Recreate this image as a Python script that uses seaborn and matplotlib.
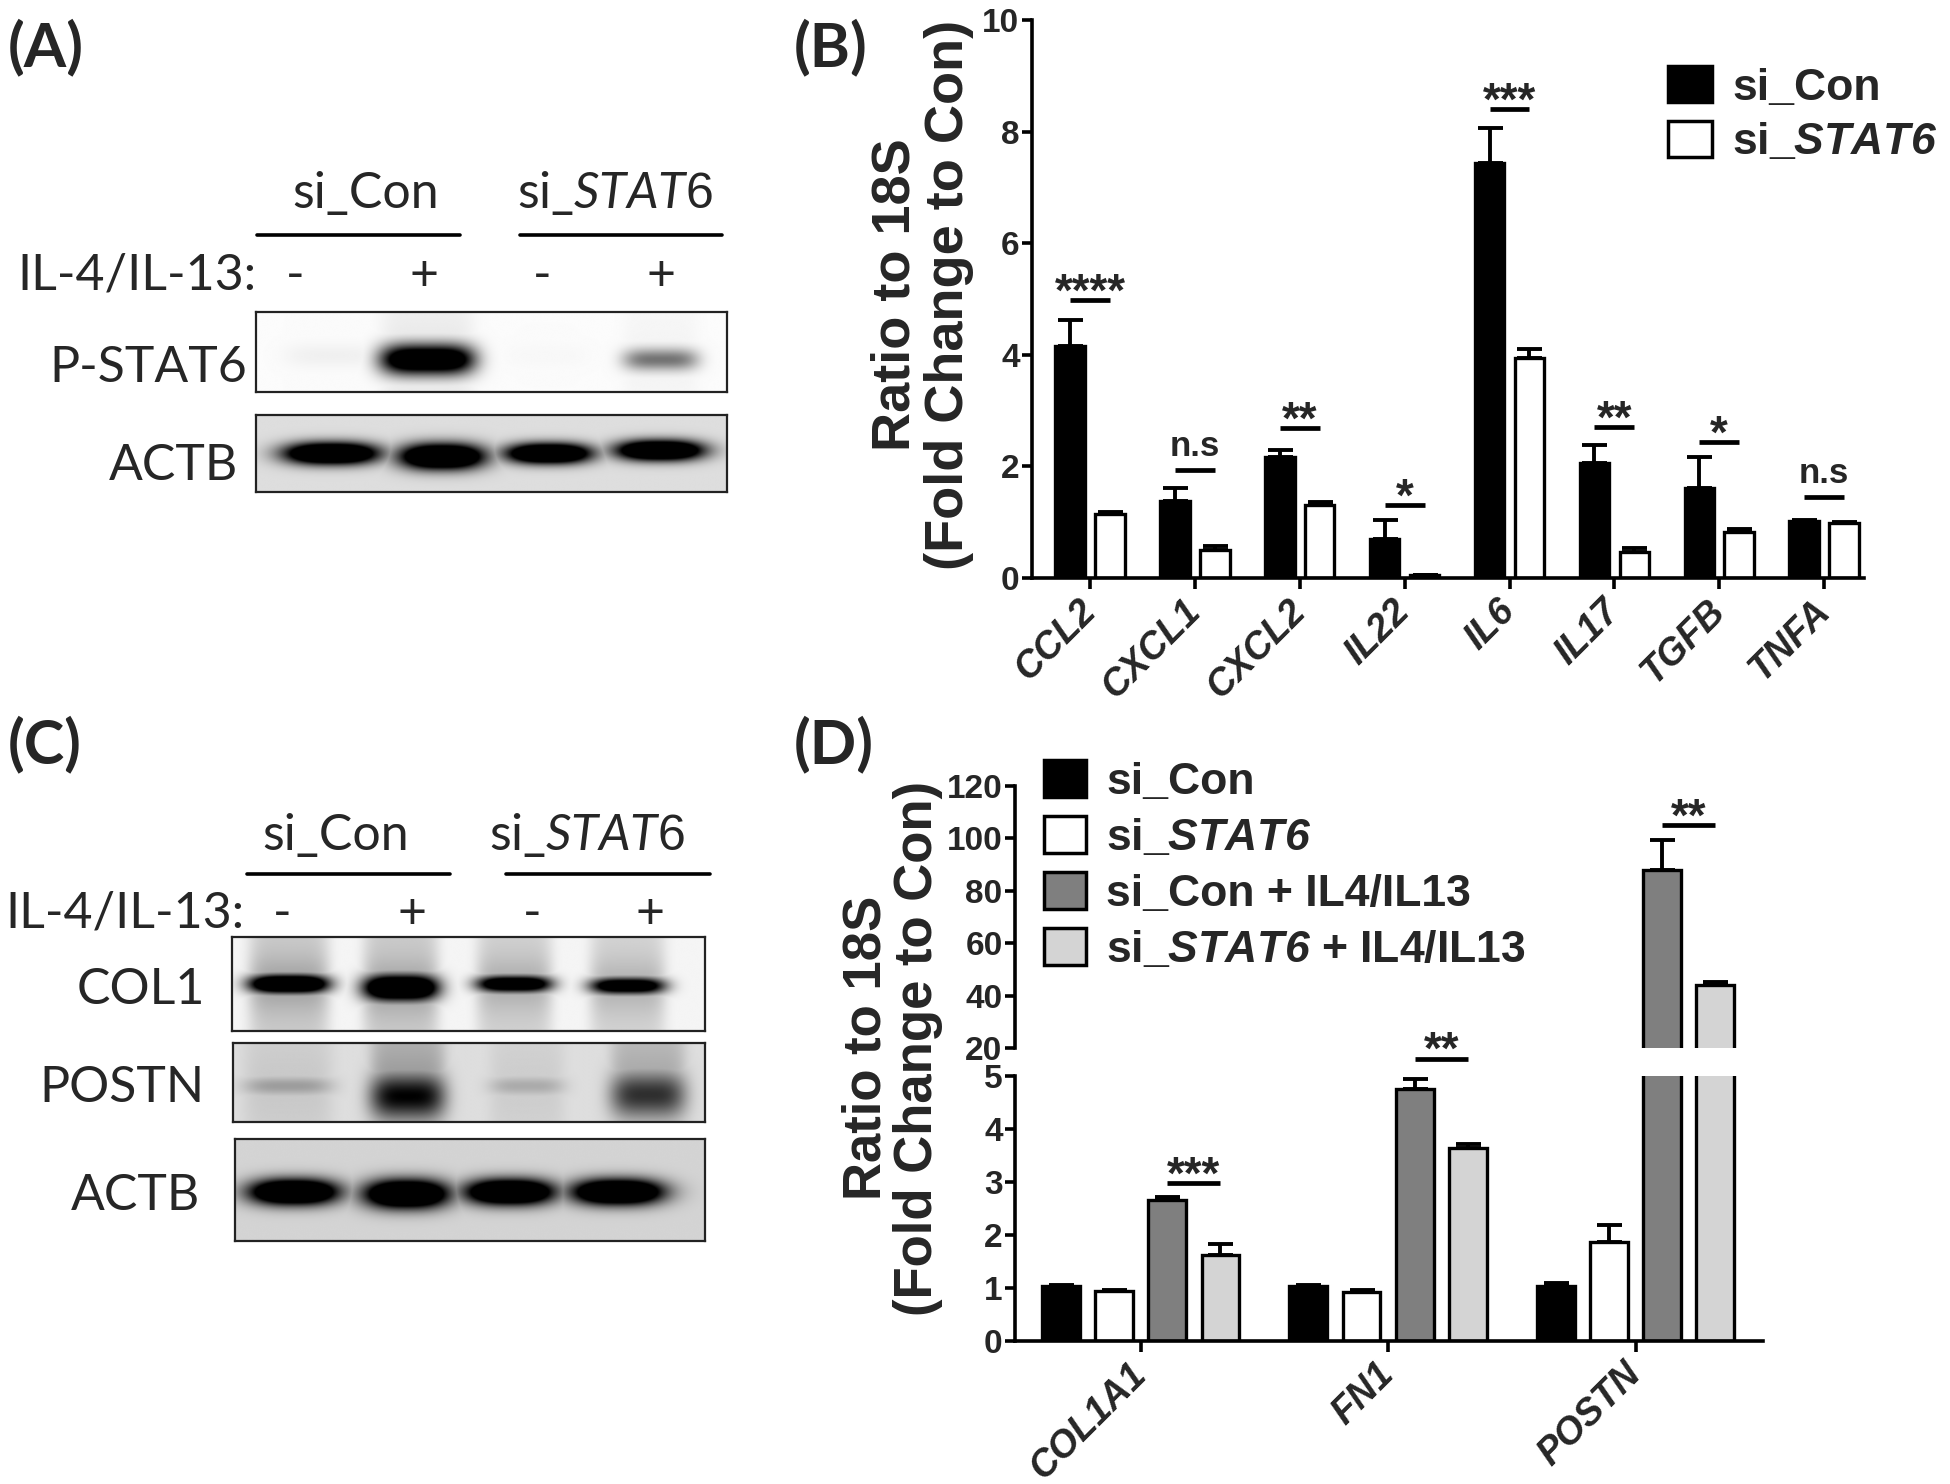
import numpy as np
import pandas as pd
import matplotlib
matplotlib.use("Agg")
import matplotlib.pyplot as plt
from matplotlib.patches import Patch
import seaborn as sns

W, H = 1950, 1484

# ---------------- Panel B data ----------------
genes_B = ["CCL2", "CXCL1", "CXCL2", "IL22", "IL6", "IL17", "TGFB", "TNFA"]
groups_B = ["si_Con", "si_STAT6"]
sicon_B = [4.16, 1.38, 2.16, 0.70, 7.44, 2.06, 1.62, 1.02]
sicon_B_err = [0.46, 0.24, 0.14, 0.34, 0.63, 0.32, 0.54, 0.02]
sistat6_B = [1.14, 0.50, 1.30, 0.06, 3.94, 0.46, 0.82, 0.99]
sistat6_B_err = [0.04, 0.07, 0.07, 0.0, 0.17, 0.08, 0.06, 0.01]
sig_B = ["****", "n.s", "**", "*", "***", "**", "*", "n.s"]
sig_B_y = [4.98, 1.94, 2.68, 1.30, 8.40, 2.70, 2.44, 1.46]

# ---------------- Panel D data ----------------
genes_D = ["COL1A1", "FN1", "POSTN"]
groups_D = ["si_Con", "si_STAT6", "si_Con + IL4/IL13", "si_STAT6 + IL4/IL13"]
sicon_D = [1.04, 1.04, 1.04]
sicon_D_err = [0.01, 0.01, 0.05]
sistat6_D = [0.95, 0.92, 1.87]
sistat6_D_err = [0.01, 0.05, 0.31]
sicon_il_D = [2.66, 4.76, 88.0]
sicon_il_D_err = [0.06, 0.18, 11.4]
sistat6_il_D = [1.62, 3.65, 43.9]
sistat6_il_D_err = [0.21, 0.07, 1.3]
sig_D = ["***", "**", "**"]
sig_D_y = [2.98, 5.33, 105.2]

# ---------------- Western blot band intensities (0 = none, 1 = saturated) ----------------
lanes_treat = ["-", "+", "-", "+"]
A_pstat6 = [0.03, 1.0, 0.01, 0.36]
A_actb = [1.0, 1.0, 1.0, 1.0]
C_col1 = [1.0, 1.0, 0.85, 0.8]
C_postn = [0.28, 0.95, 0.22, 0.75]
C_actb = [1.0, 1.0, 1.0, 1.0]

# ---------------- style ----------------
sns.set_theme(style="ticks")
plt.rcParams["font.family"] = ["Liberation Sans", "DejaVu Sans"]
plt.rcParams["mathtext.fontset"] = "custom"
plt.rcParams["mathtext.it"] = "Lato:italic"
plt.rcParams["mathtext.bf"] = "Liberation Sans:italic:bold"
plt.rcParams["mathtext.rm"] = "Liberation Sans"

fig = plt.figure(figsize=(W / 100, H / 100), dpi=100)


def fbox(x0, y0, x1, y1):
    return [x0 / W, 1 - y1 / H, (x1 - x0) / W, (y1 - y0) / H]


def fx(x):
    return x / W


def fy(y):
    return 1 - y / H


BLOT_FONT = ["Lato", "DejaVu Sans"]
BF = 36
LETTER = 44


def draw_blot(box, cx, intens, widths, ycs, hs, bg, smear=0.0, smear_h=0.4, sat=1.6, px=3.0):
    ax = fig.add_axes(fbox(*box))
    nx, ny = 700, 220
    x = np.linspace(0, 1, nx)[None, :]
    y = np.linspace(0, 1, ny)[:, None]
    dark = np.zeros((ny, nx))
    for c, a, w, yc, h in zip(cx, intens, widths, ycs, hs):
        dx = np.abs((x - c) / (w / 2))
        dy = np.abs((y - yc) / (h / 2))
        band = np.clip(sat * a * np.exp(-(dx ** px + dy ** 2)), 0, 1)
        dark = np.maximum(dark, band)
        if smear > 0:
            col = np.exp(-dx ** 6) * (0.5 + 0.5 * np.exp(-((y - yc) / smear_h) ** 2))
            dark = np.maximum(dark, smear * a * col)
    img = bg * (1 - dark)
    ax.imshow(img, cmap="gray", vmin=0, vmax=1, extent=[0, 1, 1, 0], aspect="auto",
              interpolation="bilinear")
    ax.set_xlim(0, 1)
    ax.set_ylim(1, 0)
    ax.set_xticks([])
    ax.set_yticks([])
    for s in ax.spines.values():
        s.set_visible(True)
        s.set_linewidth(1.6)
        s.set_color("#222222")
    return ax


def blot_header(y_text, y_line, y_sign, line1, line2, sign_x, con_x, stat_x, il_x):
    fig.text(fx(con_x), fy(y_text), "si_Con", family=BLOT_FONT, fontsize=BF, ha="center", va="baseline")
    fig.text(fx(stat_x), fy(y_text), r"si_$\mathit{STAT6}$", family=BLOT_FONT, fontsize=BF,
             ha="center", va="baseline")
    for (a, b) in (line1, line2):
        fig.add_artist(plt.Line2D([fx(a), fx(b)], [fy(y_line), fy(y_line)], color="black", lw=2.6,
                                  transform=fig.transFigure))
    fig.text(fx(il_x), fy(y_sign), "IL-4/IL-13:", family=BLOT_FONT, fontsize=BF, ha="left", va="baseline")
    for sx, t in zip(sign_x, lanes_treat):
        fig.text(fx(sx), fy(y_sign), t, family=BLOT_FONT, fontsize=BF, ha="center", va="baseline")


# ---------------- Panel A ----------------
fig.text(fx(8), fy(66), "(A)", family=BLOT_FONT, fontsize=LETTER, fontweight="bold", ha="left", va="baseline")
blot_header(208, 235, 290, (257, 460), (520, 722), [295, 424, 542, 661], 366, 615, 17)
draw_blot((256, 312, 727, 392), [0.16, 0.364, 0.62, 0.86], A_pstat6, [0.2, 0.2, 0.18, 0.16],
          [0.55, 0.6, 0.55, 0.6], [0.3, 0.38, 0.3, 0.28], 0.985, smear=0.1, smear_h=0.35, sat=1.5, px=4)
fig.text(fx(247), fy(382), "P-STAT6", family=BLOT_FONT, fontsize=BF, ha="right", va="baseline")
draw_blot((256, 415, 727, 492), [0.16, 0.395, 0.622, 0.858], A_actb, [0.2, 0.18, 0.18, 0.185],
          [0.5, 0.54, 0.5, 0.46], [0.28, 0.33, 0.26, 0.26], 0.87, sat=2.0, px=2.6)
fig.text(fx(238), fy(480), "ACTB", family=BLOT_FONT, fontsize=BF, ha="right", va="baseline")

# ---------------- Panel C ----------------
fig.text(fx(8), fy(763), "(C)", family=BLOT_FONT, fontsize=LETTER, fontweight="bold", ha="left", va="baseline")
blot_header(850, 874, 928, (247, 450), (506, 710), [282, 412, 532, 650], 336, 587, 5)
draw_blot((232, 937, 705, 1031), [0.12, 0.357, 0.597, 0.837], C_col1, [0.17, 0.16, 0.16, 0.16],
          [0.5, 0.54, 0.5, 0.52], [0.2, 0.28, 0.18, 0.18], 0.96, smear=0.34, smear_h=0.3, sat=1.8, px=3.5)
fig.text(fx(205), fy(1004), "COL1", family=BLOT_FONT, fontsize=BF, ha="right", va="baseline")
draw_blot((233, 1043, 705, 1122), [0.116, 0.37, 0.623, 0.88], C_postn, [0.19, 0.16, 0.16, 0.16],
          [0.55, 0.68, 0.55, 0.66], [0.25, 0.6, 0.25, 0.6], 0.87, smear=0.35, smear_h=0.6, sat=1.05, px=4)
fig.text(fx(205), fy(1102), "POSTN", family=BLOT_FONT, fontsize=BF, ha="right", va="baseline")
draw_blot((235, 1139, 705, 1241), [0.125, 0.365, 0.585, 0.815], C_actb, [0.19, 0.18, 0.19, 0.195],
          [0.52, 0.54, 0.52, 0.52], [0.25, 0.28, 0.25, 0.25], 0.83, sat=2.0, px=2.6)
fig.text(fx(200), fy(1210), "ACTB", family=BLOT_FONT, fontsize=BF, ha="right", va="baseline")

# ---------------- bar chart helpers ----------------
BAR_FONT = ["Liberation Sans", "DejaVu Sans"]


def style_axis(ax, tick_size=24):
    sns.despine(ax=ax)
    for s in ("left", "bottom"):
        ax.spines[s].set_linewidth(2.6)
        ax.spines[s].set_color("black")
    ax.tick_params(axis="y", width=2.6, length=7, color="black", pad=2)
    ax.tick_params(axis="x", width=2.6, length=8, color="black")
    ax.set_xlabel("")
    ax.set_ylabel("")
    for lab in ax.get_yticklabels():
        lab.set_fontsize(tick_size)
        lab.set_fontweight("bold")
        lab.set_family(BAR_FONT)


def add_errorbars(ax, values_list, errors_list):
    for cont, vals, errs in zip(ax.containers, values_list, errors_list):
        xs = [p.get_x() + p.get_width() / 2 for p in cont]
        ax.errorbar(xs, vals, yerr=[np.zeros(len(vals)), errs], fmt="none", ecolor="black",
                    elinewidth=2.8, capsize=9, capthick=2.8)


def centers(ax, k):
    return [p.get_x() + p.get_width() / 2 for p in ax.containers[k]]


def sig_mark(ax, x0, x1, y, s):
    ax.plot([x0, x1], [y, y], color="black", lw=3.4, solid_capstyle="butt", clip_on=False)
    if s == "n.s":
        off, size = 10, 25
    else:
        off, size = -4, 33
    ax.annotate(s, ((x0 + x1) / 2, y), xytext=(0, off), textcoords="offset points", ha="center",
                va="baseline", fontsize=size, fontweight="bold", family=BAR_FONT,
                annotation_clip=False)


def xticklabels(ax, labels, size=27):
    ax.set_xticks(range(len(labels)))
    ax.set_xticklabels(labels, rotation=45, ha="right", va="center", rotation_mode="anchor",
                       fontsize=size, fontweight="bold", fontstyle="italic", family=BAR_FONT)
    ax.tick_params(axis="x", pad=12)


# ---------------- Panel B ----------------
fig.text(fx(794), fy(66), "(B)", family=BLOT_FONT, fontsize=LETTER, fontweight="bold", ha="left", va="baseline")
axB = fig.add_axes(fbox(1032, 20, 1864, 578))
dfB = pd.DataFrame({
    "gene": genes_B * 2,
    "group": [groups_B[0]] * len(genes_B) + [groups_B[1]] * len(genes_B),
    "value": sicon_B + sistat6_B,
})
sns.barplot(data=dfB, x="gene", y="value", hue="group", order=genes_B, hue_order=groups_B,
            palette=["black", "white"], width=0.76, gap=0.26, errorbar=None, edgecolor="black",
            linewidth=2.4, saturation=1, legend=False, ax=axB)
add_errorbars(axB, [sicon_B, sistat6_B], [sicon_B_err, sistat6_B_err])
axB.set_ylim(0, 10)
axB.set_xlim(-0.553, 7.38)
axB.set_yticks([0, 2, 4, 6, 8, 10])
style_axis(axB)
xticklabels(axB, genes_B)
cB0, cB1 = centers(axB, 0), centers(axB, 1)
for i, (s, yv) in enumerate(zip(sig_B, sig_B_y)):
    sig_mark(axB, cB0[i], cB1[i], yv, s)
fig.text(fx(922), fy(295), "Ratio to 18S\n(Fold Change to Con)", rotation=90, ha="center",
         va="center", multialignment="center", fontsize=39, fontweight="bold", family=BAR_FONT,
         linespacing=1.08)
fig.legend(
    [Patch(facecolor="black", edgecolor="black", lw=2.5), Patch(facecolor="white", edgecolor="black", lw=2.5)],
    ["si_Con", r"si_$\mathbf{STAT6}$"],
    loc="upper left", bbox_to_anchor=(fx(1668), fy(66)), bbox_transform=fig.transFigure,
    frameon=False, prop={"family": "Liberation Sans", "weight": "bold", "size": 32},
    handlelength=1.0, handleheight=0.88, handletextpad=0.45, labelspacing=0.28,
    borderpad=0, borderaxespad=0)

# ---------------- Panel D ----------------
fig.text(fx(794), fy(763), "(D)", family=BLOT_FONT, fontsize=LETTER, fontweight="bold", ha="left", va="baseline")
axDt = fig.add_axes(fbox(1015, 786, 1763, 1048))
axDb = fig.add_axes(fbox(1015, 1076, 1763, 1341))
dfD = pd.DataFrame({
    "gene": genes_D * 4,
    "group": sum([[g] * len(genes_D) for g in groups_D], []),
    "value": sicon_D + sistat6_D + sicon_il_D + sistat6_il_D,
})
pal_D = ["black", "white", "#7f7f7f", "#d4d4d4"]
vals_D = [sicon_D, sistat6_D, sicon_il_D, sistat6_il_D]
errs_D = [sicon_D_err, sistat6_D_err, sicon_il_D_err, sistat6_il_D_err]
for ax in (axDt, axDb):
    sns.barplot(data=dfD, x="gene", y="value", hue="group", order=genes_D, hue_order=groups_D,
                palette=pal_D, width=0.86, gap=0.29, errorbar=None, edgecolor="black",
                linewidth=2.4, saturation=1, legend=False, ax=ax)
    add_errorbars(ax, vals_D, errs_D)
    ax.set_xlim(-0.508, 2.515)
axDt.set_ylim(20, 120)
axDt.set_yticks([20, 40, 60, 80, 100, 120])
axDb.set_ylim(0, 5)
axDb.set_yticks([0, 1, 2, 3, 4, 5])
style_axis(axDt)
style_axis(axDb)
axDt.spines["bottom"].set_visible(False)
axDt.tick_params(axis="x", bottom=False, labelbottom=False)
xticklabels(axDb, genes_D)
cD2, cD3 = centers(axDb, 2), centers(axDb, 3)
for i, (s, yv) in enumerate(zip(sig_D, sig_D_y)):
    ax = axDt if yv > 20 else axDb
    sig_mark(ax, cD2[i], cD3[i], yv, s)
fig.text(fx(892), fy(1048), "Ratio to 18S\n(Fold Change to Con)", rotation=90, ha="center",
         va="center", multialignment="center", fontsize=38, fontweight="bold", family=BAR_FONT,
         linespacing=1.05)
fig.legend(
    [Patch(facecolor=c, edgecolor="black", lw=2.5) for c in pal_D],
    ["si_Con", r"si_$\mathbf{STAT6}$", "si_Con + IL4/IL13", r"si_$\mathbf{STAT6}$ + IL4/IL13"],
    loc="upper left", bbox_to_anchor=(fx(1044), fy(760)), bbox_transform=fig.transFigure,
    frameon=False, prop={"family": "Liberation Sans", "weight": "bold", "size": 32},
    handlelength=0.95, handleheight=0.9, handletextpad=0.45, labelspacing=0.3,
    borderpad=0, borderaxespad=0)

fig.savefig("out.png", dpi=100, facecolor="white")
